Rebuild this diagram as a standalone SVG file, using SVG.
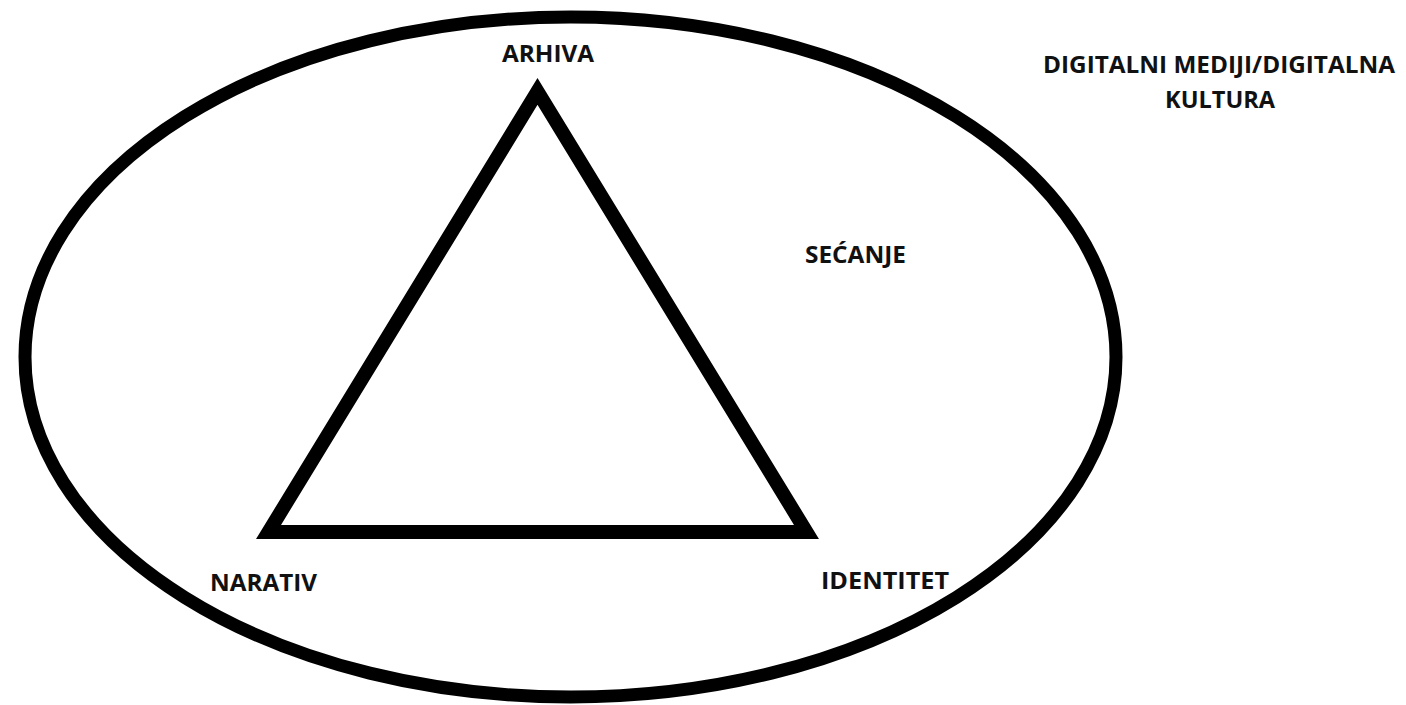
<svg xmlns="http://www.w3.org/2000/svg" width="1406" height="705" viewBox="0 0 1406 705">
<style>
.lbl{font-family:"Open Sans","Liberation Sans",sans-serif;font-weight:bold;font-size:24px;fill:#111;}
.shape{fill:none;stroke:#000;}
</style>
<rect width="1406" height="705" fill="#fff"/>
<g id="ellipse-sećanje">
<ellipse class="shape" cx="570.5" cy="357" rx="545.5" ry="340" stroke-width="13"/>
<text class="lbl" x="805" y="263" textLength="101" lengthAdjust="spacingAndGlyphs">SEĆANJE</text>
</g>
<g id="connectors">
<polygon class="shape" points="537.5,91.4 268.5,532 806.5,532" stroke-width="14" stroke-linejoin="miter"/>
</g>
<g id="node-arhiva">
<text class="lbl" x="502" y="62" textLength="92" lengthAdjust="spacingAndGlyphs">ARHIVA</text>
</g>
<g id="node-narativ">
<text class="lbl" x="210" y="591" textLength="107" lengthAdjust="spacingAndGlyphs">NARATIV</text>
</g>
<g id="node-identitet">
<text class="lbl" x="821" y="589" textLength="128" lengthAdjust="spacingAndGlyphs">IDENTITET</text>
</g>
<g id="node-digitalni">
<text class="lbl" x="1043" y="73" textLength="352" lengthAdjust="spacingAndGlyphs">DIGITALNI MEDIJI/DIGITALNA</text>
<text class="lbl" x="1165" y="108" textLength="110" lengthAdjust="spacingAndGlyphs">KULTURA</text>
</g>
</svg>
